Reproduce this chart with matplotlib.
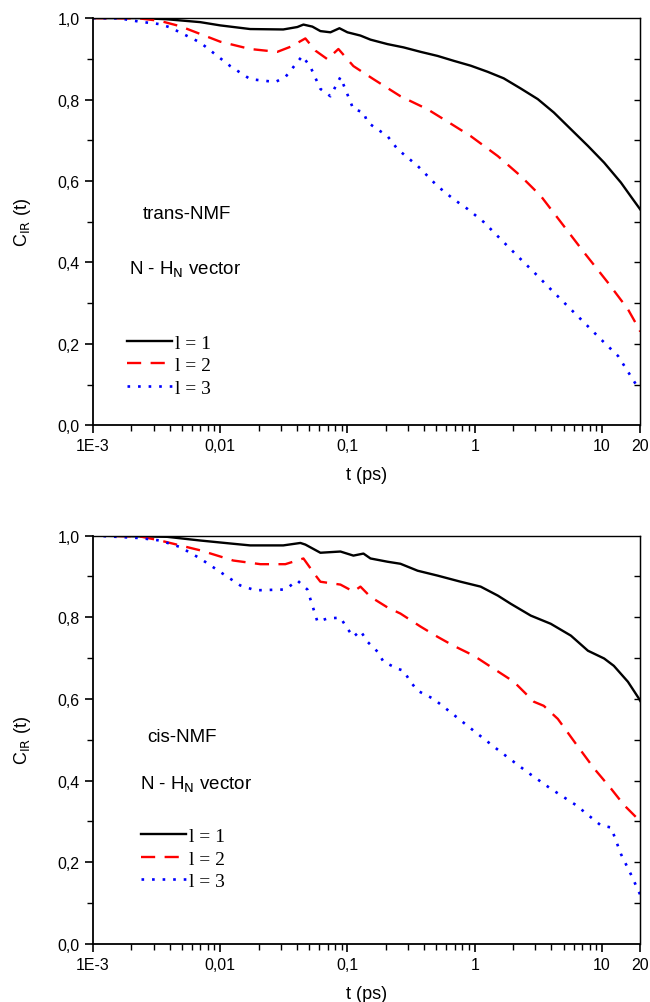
import numpy as np
import matplotlib
matplotlib.use("Agg")
import matplotlib.pyplot as plt
from matplotlib.ticker import FixedLocator, FixedFormatter, NullFormatter

plt.rcParams['font.family'] = ['Liberation Sans', 'DejaVu Sans']

# ---- trans-NMF (top panel) ----
t_tr1 = [0.001, 0.00234, 0.00383, 0.00696, 0.0100, 0.0172, 0.0313, 0.0404, 0.0451, 0.0530,
         0.0613, 0.0735, 0.0865, 0.100, 0.1265, 0.1517, 0.2065, 0.276, 0.376, 0.511, 0.684,
         0.931, 1.265, 1.69, 2.30, 3.13, 4.19, 5.70, 7.76, 10.4, 14.1, 17.5, 20]
c_tr1 = [1.0, 1.0, 0.997, 0.990, 0.982, 0.973, 0.972, 0.978, 0.984, 0.979,
         0.968, 0.965, 0.975, 0.965, 0.957, 0.947, 0.936, 0.928, 0.917, 0.907, 0.895,
         0.883, 0.868, 0.852, 0.827, 0.801, 0.768, 0.727, 0.686, 0.645, 0.596, 0.555, 0.53]

t_tr2 = [0.001, 0.00234, 0.00337, 0.00484, 0.00696, 0.0100, 0.0172, 0.0281, 0.0360, 0.0467,
         0.0560, 0.0696, 0.0849, 0.1114, 0.160, 0.261, 0.426, 0.624, 0.931, 1.52, 2.30,
         3.31, 4.75, 7.21, 11.1, 16.0, 19.6, 20]
c_tr2 = [1.0, 0.999, 0.993, 0.980, 0.961, 0.942, 0.924, 0.917, 0.930, 0.950,
         0.920, 0.899, 0.924, 0.882, 0.850, 0.808, 0.776, 0.744, 0.710, 0.661, 0.612,
         0.563, 0.499, 0.425, 0.351, 0.285, 0.236, 0.23]

t_tr3 = [0.001, 0.00163, 0.00234, 0.00337, 0.00404, 0.00696, 0.0120, 0.0172, 0.0271, 0.0325,
         0.0442, 0.0512, 0.0613, 0.0735, 0.0881, 0.1114, 0.1336, 0.1436, 0.172, 0.2065,
         0.2476, 0.356, 0.511, 0.684, 0.881, 1.178, 1.60, 2.18, 2.92, 3.96, 5.40, 7.21,
         9.82, 13.4, 16.9, 19.6, 20]
c_tr3 = [1.0, 0.999, 0.991, 0.985, 0.977, 0.940, 0.882, 0.850, 0.843, 0.855,
         0.907, 0.880, 0.826, 0.808, 0.855, 0.776, 0.769, 0.744, 0.727, 0.710,
         0.678, 0.637, 0.587, 0.555, 0.531, 0.499, 0.457, 0.415, 0.376, 0.334, 0.292, 0.253,
         0.211, 0.170, 0.120, 0.088, 0.088]

# ---- cis-NMF (bottom panel) ----
t_ci1 = [0.001, 0.00383, 0.00696, 0.01265, 0.0172, 0.0313, 0.0427, 0.0467, 0.0613, 0.0881,
         0.1114, 0.1336, 0.1517, 0.2065, 0.261, 0.356, 0.511, 0.776, 1.114, 1.52, 1.92,
         2.76, 3.96, 5.70, 7.76, 10.4, 12.4, 16.0, 19.6, 20]
c_ci1 = [1.0, 0.997, 0.988, 0.980, 0.976, 0.976, 0.982, 0.978, 0.958, 0.961,
         0.951, 0.956, 0.944, 0.936, 0.931, 0.914, 0.902, 0.887, 0.875, 0.853, 0.833,
         0.804, 0.784, 0.755, 0.718, 0.699, 0.681, 0.642, 0.600, 0.595]

t_ci2 = [0.001, 0.00234, 0.00337, 0.00696, 0.01265, 0.0207, 0.0325, 0.0451, 0.0560, 0.0613,
         0.0881, 0.1114, 0.1265, 0.1517, 0.2065, 0.261, 0.376, 0.511, 0.684, 0.982, 1.41,
         2.03, 2.92, 3.49, 4.50, 6.24, 8.65, 11.8, 14.9, 20]
c_ci2 = [1.0, 0.998, 0.988, 0.964, 0.939, 0.930, 0.930, 0.944, 0.903, 0.887,
         0.880, 0.863, 0.875, 0.850, 0.824, 0.809, 0.777, 0.752, 0.730, 0.706, 0.674,
         0.642, 0.593, 0.583, 0.551, 0.49, 0.43, 0.38, 0.34, 0.30]

t_ci3 = [0.001, 0.00234, 0.00337, 0.00484, 0.00696, 0.0100, 0.01437, 0.0189, 0.0325, 0.0404,
         0.0484, 0.0530, 0.0581, 0.0696, 0.0881, 0.100, 0.1114, 0.1265, 0.1436, 0.172,
         0.192, 0.2476, 0.276, 0.313, 0.356, 0.475, 0.624, 1.0, 1.60, 2.61, 3.96, 6.24,
         8.19, 9.82, 11.8, 14.1, 16.9, 20]
c_ci3 = [1.0, 0.994, 0.988, 0.972, 0.944, 0.911, 0.878, 0.866, 0.868, 0.890,
         0.868, 0.829, 0.789, 0.797, 0.799, 0.772, 0.752, 0.767, 0.740, 0.716,
         0.691, 0.674, 0.669, 0.642, 0.620, 0.600, 0.571, 0.52, 0.47, 0.42, 0.38, 0.34,
         0.31, 0.29, 0.285, 0.22, 0.17, 0.12]

xticks = [0.001, 0.01, 0.1, 1, 10, 20]
xticklabels = ['1E-3', '0,01', '0,1', '1', '10', '20']
yticks = [0.0, 0.2, 0.4, 0.6, 0.8, 1.0]
yticklabels = ['0,0', '0,2', '0,4', '0,6', '0,8', '1,0']
legend_labels = ['l = 1', 'l = 2', 'l = 3']

panels = [
    dict(rect=[0.143, 0.575, 0.842, 0.406], name='trans-NMF',
         curves=[(t_tr1, c_tr1), (t_tr2, c_tr2), (t_tr3, c_tr3)],
         name_xy=(0.091, 0.52), vec_xy=(0.066, 0.383), leg_xy=(0.062, 0.147)),
    dict(rect=[0.143, 0.058, 0.842, 0.407], name='cis-NMF',
         curves=[(t_ci1, c_ci1), (t_ci2, c_ci2), (t_ci3, c_ci3)],
         name_xy=(0.10, 0.507), vec_xy=(0.086, 0.392), leg_xy=(0.088, 0.208)),
]

styles = [dict(color='black', ls='-', lw=1.7),
          dict(color='#ff0000', ls=(0, (6, 4)), lw=1.7),
          dict(color='#0000ff', ls=(0, (1, 3)), lw=1.9)]

fig = plt.figure(figsize=(6.5, 10.03), dpi=100)

for p in panels:
    ax = fig.add_axes(p['rect'])
    for (t, c), st, lab in zip(p['curves'], styles, legend_labels):
        ax.plot(t, c, label=lab, **st)
    ax.set_xscale('log')
    ax.set_xlim(0.001, 20)
    ax.set_ylim(0.0, 1.0)
    ax.xaxis.set_major_locator(FixedLocator(xticks))
    ax.xaxis.set_major_formatter(FixedFormatter(xticklabels))
    minors = [m * 10.0 ** e for e in range(-3, 2) for m in range(2, 10) if m * 10.0 ** e < 20]
    ax.xaxis.set_minor_locator(FixedLocator(minors))
    ax.xaxis.set_minor_formatter(NullFormatter())
    ax.set_yticks(yticks)
    ax.set_yticklabels(yticklabels)
    ax.set_yticks(np.arange(0.1, 1.0, 0.2), minor=True)
    ax.tick_params(which='major', direction='out', length=6, width=1.2, labelsize=11.5)
    ax.tick_params(which='minor', direction='out', length=4, width=1.0)
    for s in ax.spines.values():
        s.set_linewidth(1.3)
    ax.spines['top'].set_linewidth(1.0)
    ax.spines['right'].set_linewidth(1.0)
    sec = ax.secondary_yaxis('right')
    sec.set_yticks(np.arange(0.1, 1.0, 0.1))
    sec.tick_params(direction='in', length=4, width=1.0, labelright=False)

    ax.set_xlabel('t (ps)', fontsize=13, labelpad=9)
    ax.set_ylabel(r'C$_{\mathrm{IR}}$ (t)', fontsize=13, labelpad=18)
    ax.text(p['name_xy'][0], p['name_xy'][1], p['name'], transform=ax.transAxes,
            fontsize=13.5, va='center')
    ax.text(p['vec_xy'][0], p['vec_xy'][1], r'N - H$_{\mathrm{N}}$ vector',
            transform=ax.transAxes, fontsize=13.5, va='center')
    ax.legend(loc='center left', bbox_to_anchor=p['leg_xy'], frameon=False,
              prop={'family': 'Liberation Serif', 'size': 14}, handlelength=2.3,
              handletextpad=0.15, labelspacing=0.25, borderpad=0, borderaxespad=0)

fig.savefig('out.png', dpi=100)
